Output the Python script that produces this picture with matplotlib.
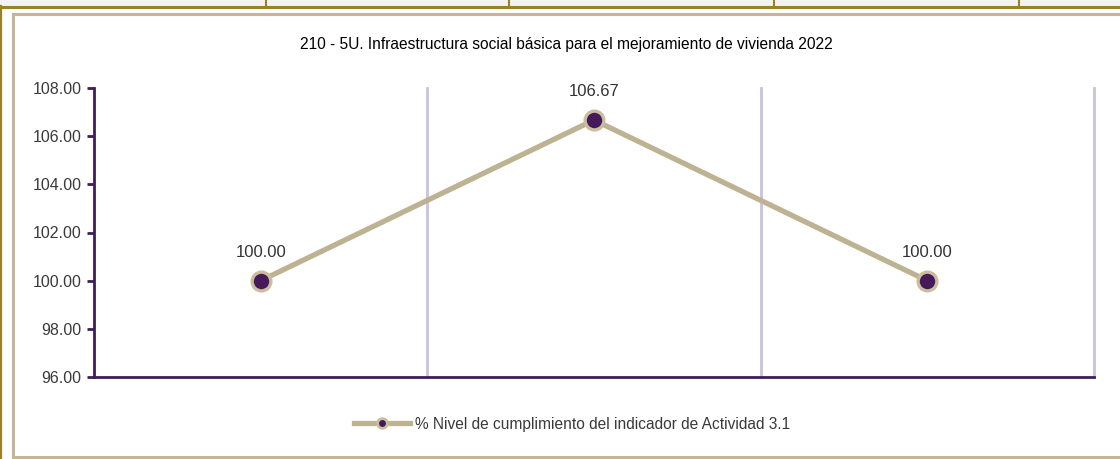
import matplotlib.pyplot as plt
from matplotlib.patches import Rectangle
from matplotlib.lines import Line2D

categories = ['1', '2', '3']
values = [100.00, 106.67, 100.00]
yticks = [96, 98, 100, 102, 104, 106, 108]
series_name = '% Nivel de cumplimiento del indicador de Actividad 3.1'
title = '210 - 5U. Infraestructura social básica para el mejoramiento de vivienda 2022'

plt.rcParams['font.family'] = ['Liberation Sans', 'DejaVu Sans']

W, H = 1120, 459
fig = plt.figure(figsize=(W / 100, H / 100), dpi=100)

# page decorations: table row above, frame around chart
fig.patches.append(Rectangle((0, 1 - 6 / H), 1, 6 / H, transform=fig.transFigure,
                             facecolor='#f2f2f2', edgecolor='none'))
for xs in [266, 509, 774, 1019]:
    fig.lines.append(Line2D([xs / W, xs / W], [1, 1 - 6 / H], transform=fig.transFigure,
                            color='#9c7f2a', lw=1.5))
fig.lines.append(Line2D([0, 1], [1 - 6.5 / H, 1 - 6.5 / H], transform=fig.transFigure,
                        color='#9c7f2a', lw=2.2))
fig.lines.append(Line2D([0.8 / W, 0.8 / W], [0, 1 - 6 / H], transform=fig.transFigure,
                        color='#9c7f2a', lw=1.6))
fig.lines.append(Line2D([13 / W, 13 / W, 1], [1 - 14 / H, 1 - 14 / H, 1 - 14 / H],
                        transform=fig.transFigure, color='#c4b694', lw=2.2))
fig.lines.append(Line2D([13 / W, 13 / W], [1 - 14 / H, 1 - 457 / H],
                        transform=fig.transFigure, color='#c4b694', lw=2.2))
fig.lines.append(Line2D([13 / W, 1], [1 - 457 / H, 1 - 457 / H],
                        transform=fig.transFigure, color='#c4b694', lw=2.2))

ax = fig.add_axes([94 / W, 1 - 377 / H, 1000 / W, (377 - 88) / H])
x = range(len(categories))
ax.plot(x, values, color='#bdb291', lw=3.8, marker='o', ms=13.5,
        markerfacecolor='#45195a', markeredgecolor='#c9bf9f', markeredgewidth=2.4,
        label=series_name, zorder=3)
for xi, v in zip(x, values):
    ax.annotate(f'{v:.2f}', (xi, v), xytext=(0, 15), textcoords='offset points',
                ha='center', va='bottom', fontsize=12, color='#333333')

ax.set_xlim(-0.5, len(categories) - 0.5)
ax.set_ylim(96, 108)
ax.set_yticks(yticks)
ax.set_yticklabels([f'{t:.2f}' for t in yticks], fontsize=11.5, color='#3a3a3a')
ax.set_xticks([])
for b in [0.5, 1.5, 2.5]:
    ax.axvline(b, color='#c9c1dd', lw=2, zorder=1, clip_on=False)
for s in ['top', 'right']:
    ax.spines[s].set_visible(False)
for s in ['left', 'bottom']:
    ax.spines[s].set_color('#3d1e5a')
    ax.spines[s].set_linewidth(2)
ax.tick_params(axis='y', color='#3d1e5a', width=2, length=5, pad=4)

fig.text(566 / W, 1 - 45 / H, title, ha='center', va='center', fontsize=11.2,
         color='black')

h = Line2D([], [], color='#bdb291', lw=3.8, marker='o', ms=7,
           markerfacecolor='#45195a', markeredgecolor='#c9bf9f', markeredgewidth=2)
fig.legend([h], [series_name], loc='center', bbox_to_anchor=(572 / W, 1 - 424 / H),
           frameon=False, fontsize=11.2, handlelength=3.6, handletextpad=0.3,
           labelcolor='#3a3a3a')

fig.savefig('out.png', dpi=100)
